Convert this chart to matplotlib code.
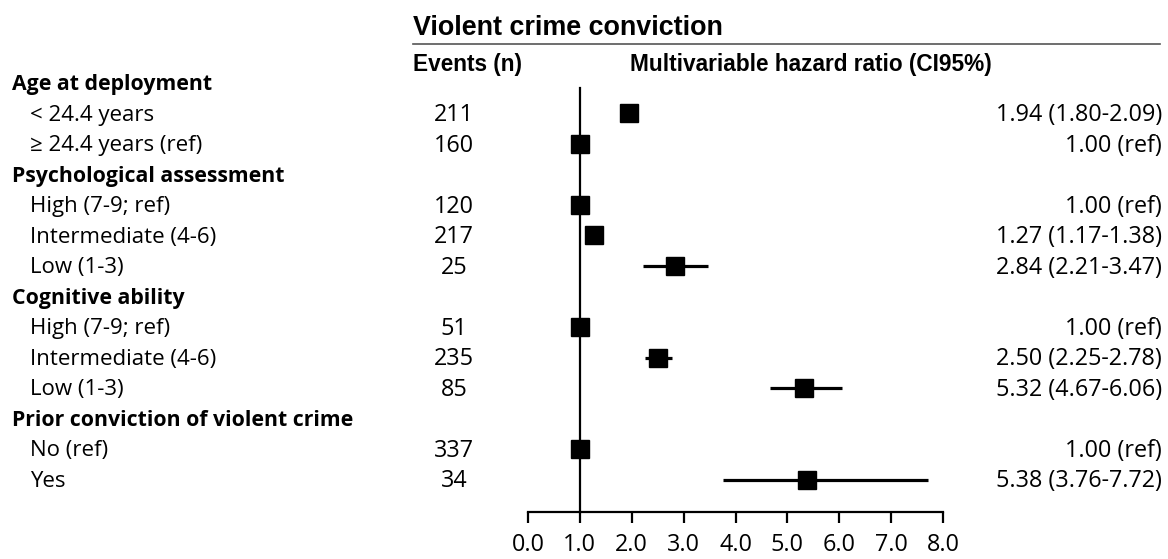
import matplotlib.pyplot as plt
from matplotlib import transforms

# Rows of the table, top to bottom; headers have no events or estimate
labels = ["Age at deployment", "< 24.4 years", "≥ 24.4 years (ref)",
          "Psychological assessment", "High (7-9; ref)", "Intermediate (4-6)", "Low (1-3)",
          "Cognitive ability", "High (7-9; ref)", "Intermediate (4-6)", "Low (1-3)",
          "Prior conviction of violent crime", "No (ref)", "Yes"]
is_header = [True, False, False, True, False, False, False,
             True, False, False, False, True, False, False]
events = [None, 211, 160, None, 120, 217, 25, None, 51, 235, 85, None, 337, 34]
hr = [None, 1.94, 1.00, None, 1.00, 1.27, 2.84, None, 1.00, 2.50, 5.32, None, 1.00, 5.38]
lo = [None, 1.80, None, None, None, 1.17, 2.21, None, None, 2.25, 4.67, None, None, 3.76]
hi = [None, 2.09, None, None, None, 1.38, 3.47, None, None, 2.78, 6.06, None, None, 7.72]
xticks = [0.0, 1.0, 2.0, 3.0, 4.0, 5.0, 6.0, 7.0, 8.0]

W, H = 1168, 559
body_font = ["Open Sans", "DejaVu Sans"]
head_font = ["Liberation Sans", "DejaVu Sans"]
fs_label = 16
fs_group = 15.3
fs_num = 16.8
dy = 0.06  # nudge text down a little so it sits level with the markers

fig = plt.figure(figsize=(W / 100, H / 100), dpi=100)

def fx(px):
    return px / W

def fy(px):
    return 1 - px / H

# plot area: x 0..8 spans pixels 528..943, rows 30.5 px apart starting at y=83
row0, step = 83, 30.5
y_bottom = 512
ax = fig.add_axes([fx(528), fy(y_bottom), fx(943) - fx(528), (y_bottom - (row0 - step)) / H])
ax.set_xlim(0, 8)
ax.set_ylim((y_bottom - row0) / step, -1)
for s in ["top", "right", "left"]:
    ax.spines[s].set_visible(False)
ax.spines["bottom"].set_linewidth(1.6)
ax.set_yticks([])
ax.set_xticks(xticks)
ax.set_xticklabels([f"{t:.1f}" for t in xticks], fontfamily=body_font, fontsize=fs_num)
ax.tick_params(axis="x", direction="out", length=8, width=1.6, pad=7)

# reference line at HR = 1
ax.plot([1, 1], [0.15, (y_bottom - row0) / step], color="black", lw=1.6, clip_on=False)

tr = transforms.blended_transform_factory(fig.transFigure, ax.transData)
for i, lab in enumerate(labels):
    if is_header[i]:
        ax.text(fx(12), i + dy, lab, transform=tr, fontfamily=body_font, fontsize=fs_group,
                fontweight="bold", va="center", ha="left")
        continue
    ax.text(fx(30), i + dy, lab, transform=tr, fontfamily=body_font, fontsize=fs_label,
            va="center", ha="left")
    ax.text(fx(454), i + dy, str(events[i]), transform=tr, fontfamily=body_font,
            fontsize=fs_num, va="center", ha="center")
    if lo[i] is None:
        txt = f"{hr[i]:.2f} (ref)"
    else:
        txt = f"{hr[i]:.2f} ({lo[i]:.2f}-{hi[i]:.2f})"
        ax.plot([lo[i], hi[i]], [i, i], color="black", lw=2.3, solid_capstyle="butt")
    ax.plot(hr[i], i, marker="s", color="black", markersize=13.5, clip_on=False)
    ax.text(fx(1162), i + dy, txt, transform=tr, fontfamily=body_font, fontsize=fs_num,
            va="center", ha="right")

# column headings
fig.text(fx(413), fy(28), "Violent crime conviction", fontfamily=head_font,
         fontsize=19.4, fontweight="bold", va="center", ha="left")
fig.add_artist(plt.Line2D([fx(413), fx(1160)], [fy(44), fy(44)], color="#555555", lw=1.2))
fig.text(fx(413), fy(64), "Events (n)", fontfamily=head_font, fontsize=16.3,
         fontweight="bold", va="center", ha="left")
fig.text(fx(630), fy(64), "Multivariable hazard ratio (CI95%)", fontfamily=head_font,
         fontsize=16.3, fontweight="bold", va="center", ha="left")

fig.savefig("out.png", dpi=100)
